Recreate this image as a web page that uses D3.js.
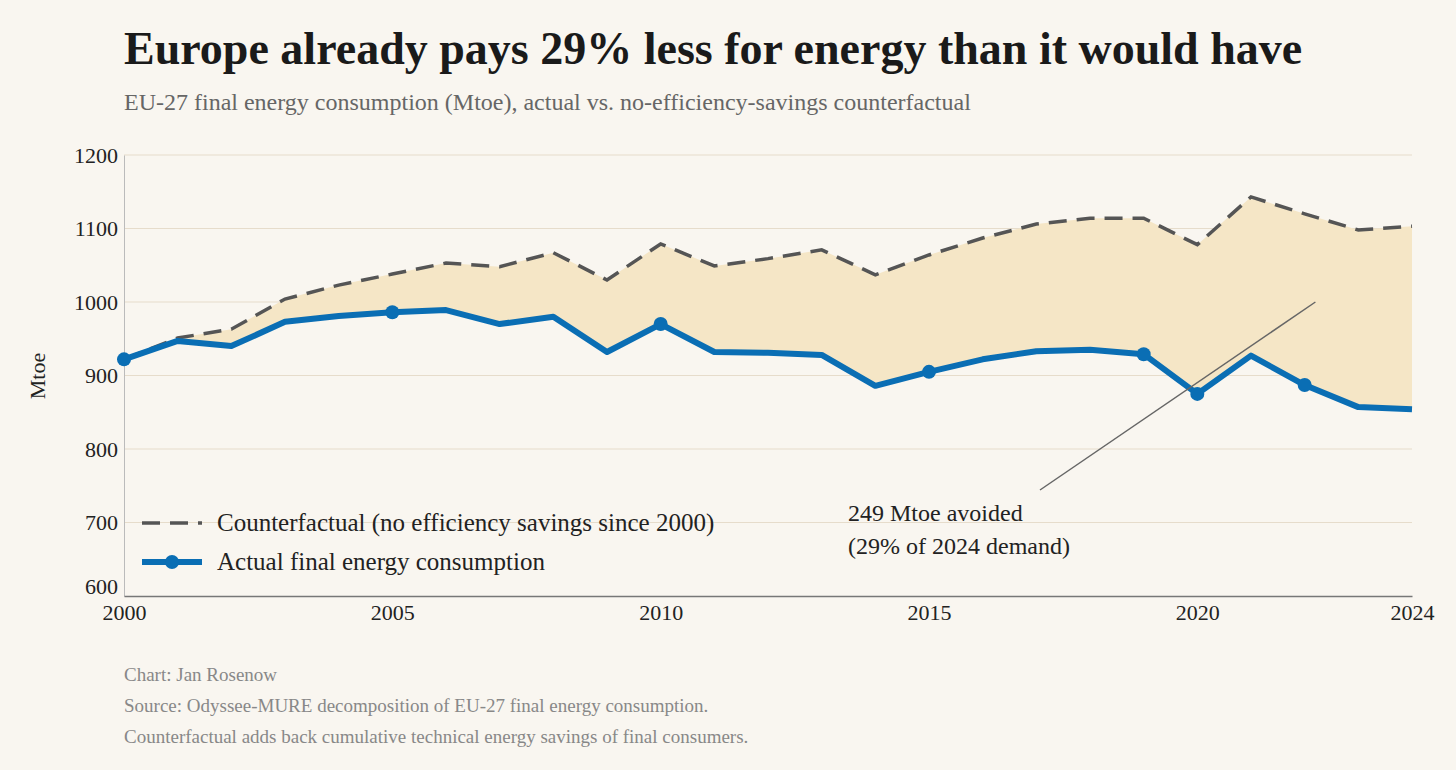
<!DOCTYPE html>
<html><head><meta charset="utf-8">
<script src="https://cdn.jsdelivr.net/npm/d3@7"></script>
<style>
body{margin:0;background:#f9f6f0;font-family:"Liberation Serif",serif;}
</style></head>
<body><div id="chart"></div>
<script>
const years = d3.range(2000, 2025);
const actual = [922,947,940,973,981,986,989,970,980,932,970,932,931,928,886,905,922,933,935,929,875,927,887,857,854];
const counterfactual = [922,951,963,1004,1023,1038,1053,1048,1067,1030,1079,1049,1059,1071,1037,1064,1087,1106,1114,1114,1078,1143,1120,1098,1103];
const markerYears = [2000,2005,2010,2015,2019,2020,2022];
const yTicks = [600,700,800,900,1000,1100,1200];
const xTicks = [2000,2005,2010,2015,2020,2024];

const width = 1456, height = 770;
const svg = d3.select("#chart").append("svg").attr("width", width).attr("height", height);
svg.append("rect").attr("width", width).attr("height", height).attr("fill", "#f9f6f0");

const x = d3.scaleLinear().domain([2000, 2024]).range([124, 1412]);
const y = d3.scaleLinear().domain([600, 1200]).range([596, 155]);

svg.append("text").attr("x", 124).attr("y", 64).attr("font-size", 46).attr("font-weight", "bold")
    .attr("fill", "#1a1a1a").text("Europe already pays 29% less for energy than it would have");
svg.append("text").attr("x", 124).attr("y", 110).attr("font-size", 24).attr("fill", "#666")
    .text("EU-27 final energy consumption (Mtoe), actual vs. no-efficiency-savings counterfactual");

// grid
svg.selectAll("line.grid").data(yTicks.slice(1)).enter().append("line")
    .attr("x1", 124).attr("x2", 1412).attr("y1", d => y(d)).attr("y2", d => y(d))
    .attr("stroke", "#e6dccb").attr("stroke-width", 1);

// axes
const yAxis = svg.append("g").attr("transform", "translate(124,0)")
    .call(d3.axisLeft(y).tickValues(yTicks).tickFormat(d3.format("d")).tickSize(0).tickPadding(6));
yAxis.select(".domain").attr("stroke", "#bbb");
yAxis.selectAll("text").attr("font-size", 22).attr("fill", "#222").attr("font-family", "Liberation Serif");
yAxis.selectAll(".tick").filter(d => d === 600).select("text").attr("dy", "-0.1em");

const xAxis = svg.append("g").attr("transform", "translate(0,596)")
    .call(d3.axisBottom(x).tickValues(xTicks).tickFormat(d3.format("d")).tickSize(0).tickPadding(8));
xAxis.select(".domain").attr("stroke", "#777").attr("stroke-width", 1.5);
xAxis.selectAll("text").attr("font-size", 22).attr("fill", "#222").attr("font-family", "Liberation Serif");

svg.append("text").attr("transform", "translate(45,376) rotate(-90)").attr("text-anchor", "middle")
    .attr("font-size", 22).attr("fill", "#222").text("Mtoe");

const data = years.map((yr, i) => ({yr, a: actual[i], c: counterfactual[i]}));

svg.append("path").datum(data).attr("fill", "#f5e6c6")
    .attr("d", d3.area().x(d => x(d.yr)).y0(d => y(d.a)).y1(d => y(d.c)));

svg.append("path").datum(data).attr("fill", "none").attr("stroke", "#555")
    .attr("stroke-width", 3.5).attr("stroke-dasharray", "18,10")
    .attr("d", d3.line().x(d => x(d.yr)).y(d => y(d.c)));

svg.append("path").datum(data).attr("fill", "none").attr("stroke", "#0a6eb4")
    .attr("stroke-width", 6).attr("stroke-linejoin", "round")
    .attr("d", d3.line().x(d => x(d.yr)).y(d => y(d.a)));

svg.selectAll("circle.m").data(data.filter(d => markerYears.includes(d.yr))).enter().append("circle")
    .attr("cx", d => x(d.yr)).attr("cy", d => y(d.a)).attr("r", 7).attr("fill", "#0a6eb4");

// annotation
svg.append("line").attr("x1", x(2022.2)).attr("y1", y(1000)).attr("x2", 1040).attr("y2", 490)
    .attr("stroke", "#666").attr("stroke-width", 1.5);
svg.append("text").attr("x", 848).attr("y", 521).attr("font-size", 24).attr("fill", "#222").text("249 Mtoe avoided");
svg.append("text").attr("x", 848).attr("y", 554).attr("font-size", 24).attr("fill", "#222").text("(29% of 2024 demand)");

// legend
svg.append("line").attr("x1", 142).attr("x2", 202).attr("y1", 523).attr("y2", 523)
    .attr("stroke", "#555").attr("stroke-width", 3.5).attr("stroke-dasharray", "18,10");
svg.append("text").attr("x", 217).attr("y", 531).attr("font-size", 25).attr("fill", "#222")
    .text("Counterfactual (no efficiency savings since 2000)");
svg.append("line").attr("x1", 142).attr("x2", 202).attr("y1", 562).attr("y2", 562)
    .attr("stroke", "#0a6eb4").attr("stroke-width", 6);
svg.append("circle").attr("cx", 172).attr("cy", 562).attr("r", 7).attr("fill", "#0a6eb4");
svg.append("text").attr("x", 217).attr("y", 570).attr("font-size", 25).attr("fill", "#222")
    .text("Actual final energy consumption");

// footer
const foot = ["Chart: Jan Rosenow",
    "Source: Odyssee-MURE decomposition of EU-27 final energy consumption.",
    "Counterfactual adds back cumulative technical energy savings of final consumers."];
svg.selectAll("text.foot").data(foot).enter().append("text")
    .attr("x", 124).attr("y", (d, i) => 681 + i * 31).attr("font-size", 19).attr("fill", "#888").text(d => d);
</script></body></html>
